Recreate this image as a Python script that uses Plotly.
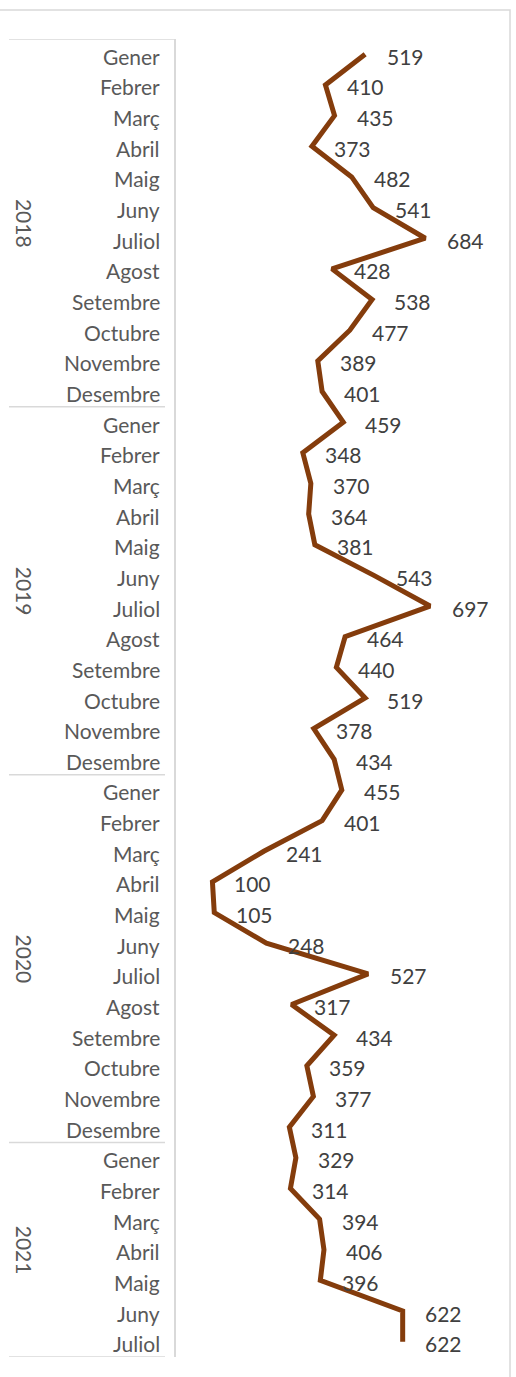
import plotly.graph_objects as go

years = ["2018", "2019", "2020", "2021"]
months_per_year = [12, 12, 12, 7]
month_names = ["Gener", "Febrer", "Març", "Abril", "Maig", "Juny", "Juliol",
               "Agost", "Setembre", "Octubre", "Novembre", "Desembre"]
values = [519, 410, 435, 373, 482, 541, 684, 428, 538, 477, 389, 401,
          459, 348, 370, 364, 381, 543, 697, 464, 440, 519, 378, 434,
          455, 401, 241, 100, 105, 248, 527, 317, 434, 359, 377, 311,
          329, 314, 394, 406, 396, 622, 622]

labels = []
for n in months_per_year:
    labels += month_names[:n]
idx = list(range(len(values)))

W, H = 516, 1377
L, T = 176, 39
R = W - 504
B = H - 1357
PW = W - L - R
PH = H - T - B


def px_x(p):
    return (p - L) / PW


def px_y(p):
    return 1 - (p - T) / PH


LINE_COLOR = "#843C0C"
GRID = "#D9D9D9"
FONT = "Lato"

fig = go.Figure()
fig.add_trace(go.Scatter(x=values, y=idx, mode="lines",
                         line=dict(color=LINE_COLOR, width=5),
                         hoverinfo="skip", showlegend=False))

ann = []
for v, i in zip(values, idx):
    ann.append(dict(x=v, y=i, xref="x", yref="y", text=str(v), showarrow=False,
                    xanchor="left", yanchor="middle", xshift=20, yshift=-2,
                    font=dict(family=FONT, size=21, color="#404040")))

shapes = []
shapes.append(dict(type="line", xref="paper", yref="y", x0=px_x(9), x1=0,
                   y0=-0.5, y1=-0.5, line=dict(color=GRID, width=1.5)))
start = 0
for y_, n in zip(years, months_per_year):
    end = start + n
    shapes.append(dict(type="line", xref="paper", yref="y", x0=px_x(9), x1=px_x(165),
                       y0=end - 0.5, y1=end - 0.5, line=dict(color=GRID, width=1.5)))
    ann.append(dict(x=px_x(24), y=(start + end - 1) / 2, xref="paper", yref="y",
                    text=y_, showarrow=False, textangle=90,
                    xanchor="center", yanchor="middle",
                    font=dict(family=FONT, size=21, color="#595959")))
    start = end

# month category labels
for lab, i in zip(labels, idx):
    ann.append(dict(x=px_x(162), y=i, xref="paper", yref="y", text=lab,
                    showarrow=False, xanchor="right", yanchor="middle", yshift=-2,
                    font=dict(family=FONT, size=21, color="#595959")))

# outer chart border
shapes.append(dict(type="rect", xref="paper", yref="paper",
                   x0=px_x(-2), x1=px_x(510), y0=px_y(1420), y1=px_y(10),
                   line=dict(color=GRID, width=1.5), fillcolor="rgba(0,0,0,0)"))

fig.update_layout(
    width=W, height=H,
    margin=dict(l=L, r=R, t=T, b=B, autoexpand=False),
    paper_bgcolor="white", plot_bgcolor="white",
    annotations=ann, shapes=shapes,
    xaxis=dict(range=[0, 900], visible=False, showgrid=False, zeroline=False),
    yaxis=dict(range=[len(values) - 0.5, -0.5], showticklabels=False,
               showgrid=False, zeroline=False, showline=True,
               linecolor=GRID, linewidth=1.5, ticks=""),
)

fig.write_html("out.html", config={"displayModeBar": False},
               post_script="document.body.style.margin='0';document.body.style.overflow='hidden';")
